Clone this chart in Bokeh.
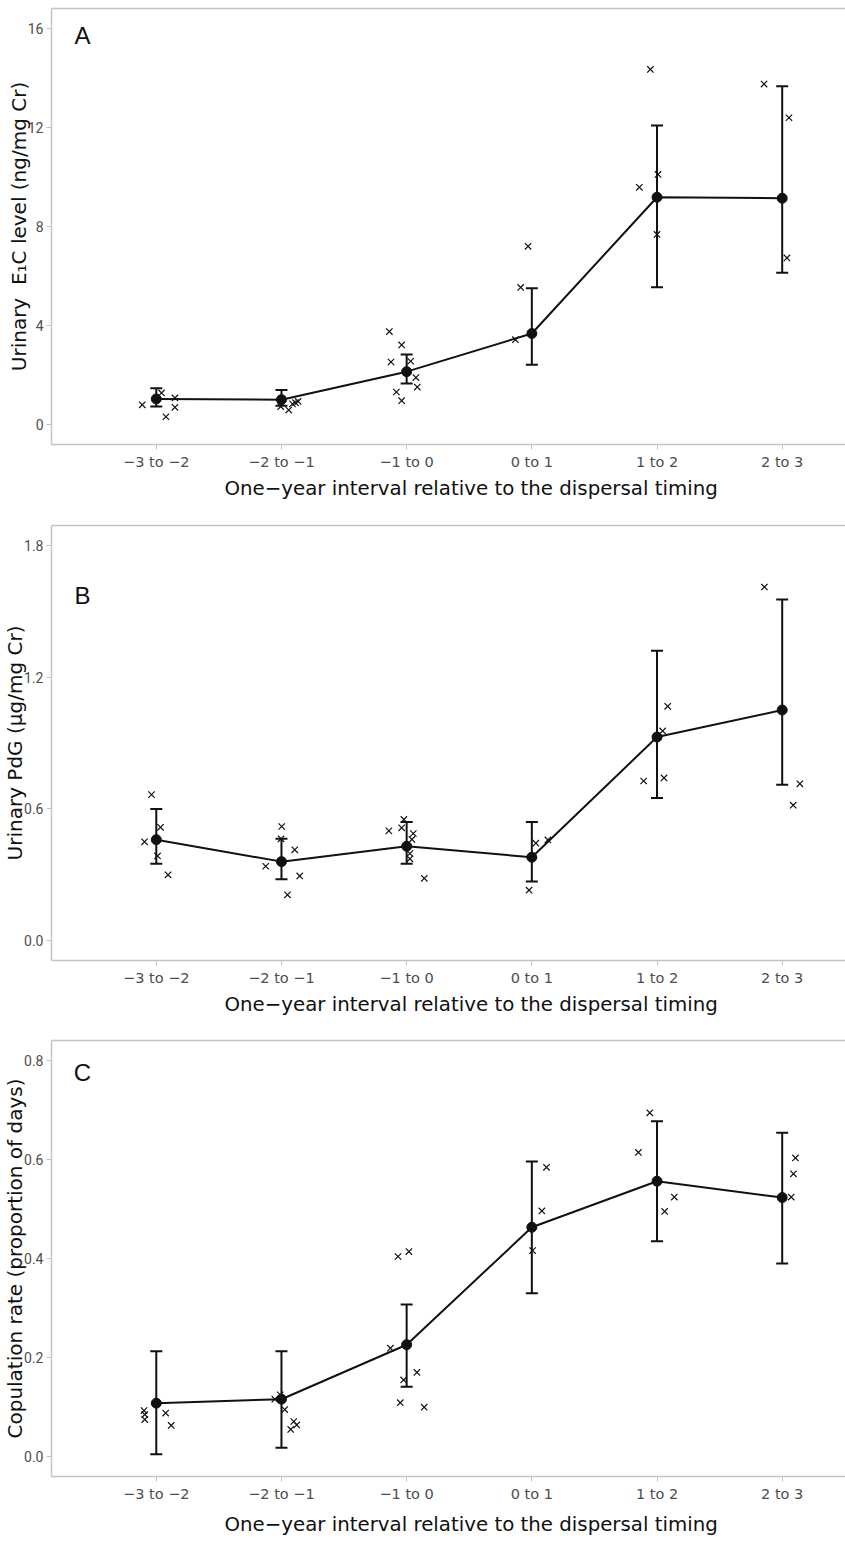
from bokeh.plotting import figure
from bokeh.layouts import column
from bokeh.models import (ColumnDataSource, Whisker, TeeHead, Label, FixedTicker,
                          NumeralTickFormatter, Range1d, Title, LinearAxis)
from bokeh.embed import file_html
from bokeh.resources import INLINE

# ---------------- data ----------------
categories = ["−3 to −2", "−2 to −1", "−1 to 0", "0 to 1", "1 to 2", "2 to 3"]

# Panel A: urinary E1C (ng/mg Cr)
a_mean = [1.04, 1.01, 2.14, 3.68, 9.18, 9.14]
a_lo = [0.73, 0.76, 1.66, 2.42, 5.55, 6.13]
a_hi = [1.47, 1.40, 2.83, 5.51, 12.08, 13.66]
a_grp = [1, 1, 1, 1, 1,
         2, 2, 2, 2, 2,
         3, 3, 3, 3, 3, 3, 3, 3,
         4, 4, 4,
         5, 5, 5, 5,
         6, 6, 6]
a_jit = [-0.112, 0.042, 0.149, 0.149, 0.077,
         -0.006, 0.058, 0.088, 0.112, 0.133,
         -0.138, -0.040, -0.125, 0.032, 0.074, 0.085, -0.082, -0.040,
         -0.030, -0.089, -0.131,
         -0.053, 0.008, -0.141, 0.000,
         -0.145, 0.054, 0.038]
a_val = [0.80, 1.28, 1.08, 0.70, 0.32,
         0.73, 0.59, 0.84, 0.89, 0.94,
         3.76, 3.22, 2.53, 2.56, 1.90, 1.52, 1.32, 0.97,
         7.20, 5.54, 3.43,
         14.34, 10.10, 9.58, 7.68,
         13.75, 12.39, 6.73]

# Panel B: urinary PdG (ug/mg Cr)
b_mean = [0.46, 0.36, 0.43, 0.38, 0.927, 1.05]
b_lo = [0.35, 0.28, 0.35, 0.27, 0.65, 0.71]
b_hi = [0.60, 0.464, 0.54, 0.54, 1.32, 1.553]
b_grp = [1, 1, 1, 1, 1,
         2, 2, 2, 2, 2, 2,
         3, 3, 3, 3, 3, 3, 3, 3,
         4, 4, 4,
         5, 5, 5, 5,
         6, 6, 6]
b_jit = [-0.038, 0.034, -0.094, 0.010, 0.094,
         0.002, -0.003, 0.106, -0.126, 0.146, 0.048,
         -0.022, -0.040, -0.142, 0.053, 0.042, 0.026, 0.026, 0.141,
         0.032, 0.128, -0.022,
         0.085, 0.045, -0.107, 0.056,
         -0.142, 0.141, 0.088]
b_val = [0.665, 0.516, 0.45, 0.386, 0.30,
         0.52, 0.464, 0.414, 0.339, 0.295, 0.209,
         0.552, 0.514, 0.50, 0.488, 0.461, 0.397, 0.373, 0.284,
         0.444, 0.459, 0.23,
         1.067, 0.955, 0.727, 0.741,
         1.61, 0.714, 0.617]

# Panel C: copulation rate
c_mean = [0.108, 0.116, 0.226, 0.463, 0.556, 0.523]
c_lo = [0.005, 0.018, 0.141, 0.33, 0.435, 0.39]
c_hi = [0.213, 0.213, 0.307, 0.596, 0.677, 0.654]
c_grp = [1, 1, 1, 1, 1,
         2, 2, 2, 2, 2, 2,
         3, 3, 3, 3, 3, 3, 3,
         4, 4, 4,
         5, 5, 5, 5,
         6, 6, 6]
c_jit = [-0.098, -0.092, -0.092, 0.075, 0.119,
         -0.053, -0.010, 0.026, 0.098, 0.122, 0.074,
         -0.130, 0.082, -0.024, -0.051, 0.140, -0.069, 0.018,
         0.117, 0.080, 0.006,
         -0.058, -0.149, 0.138, 0.061,
         0.106, 0.090, 0.072]
c_val = [0.093, 0.085, 0.075, 0.088, 0.063,
         0.116, 0.125, 0.095, 0.071, 0.064, 0.055,
         0.219, 0.170, 0.155, 0.109, 0.100, 0.404, 0.414,
         0.584, 0.496, 0.416,
         0.694, 0.614, 0.524, 0.495,
         0.603, 0.571, 0.524]

x_title = "One−year interval relative to the dispersal timing"

GRAY = "#c4c4c4"
TXT = "#4d4d4d"
INK = "#111111"
MAIN_FONT = "DejaVu Sans"
TICK_FONT = "Roboto"
WIDTH = 845
LEFT = 49
PX_PER_CAT = 125.5
X0 = 0.163


def panel(mean, lo, hi, grp, jit, val, yr, yticks, fmt, ytitle, letter, letter_y,
          height, top, bottom, title_standoff):
    x_end = X0 + (WIDTH - LEFT) / PX_PER_CAT
    p = figure(width=WIDTH, height=height, output_backend="svg", toolbar_location=None,
               x_range=Range1d(X0, x_end), y_range=Range1d(*yr),
               min_border_left=LEFT, min_border_right=0, min_border_top=top,
               min_border_bottom=bottom, background_fill_color="white",
               border_fill_color="white")
    p.grid.visible = False
    p.outline_line_color = None

    xs = list(range(1, len(categories) + 1))
    # individual points
    px = [g + j for g, j in zip(grp, jit)]
    p.scatter(px, val, marker="x", size=9, line_width=1.2, line_color=INK)
    # mean line
    p.line(xs, mean, line_width=2, line_color=INK)
    # error bars
    src = ColumnDataSource(dict(x=xs, lo=lo, hi=hi))
    w = Whisker(base="x", lower="lo", upper="hi", source=src, line_width=2,
                line_color=INK,
                upper_head=TeeHead(size=12, line_width=2, line_color=INK),
                lower_head=TeeHead(size=12, line_width=2, line_color=INK))
    p.add_layout(w)
    # means
    p.scatter(xs, mean, marker="circle", size=10, fill_color=INK, line_color=INK)

    # x axis
    xa = p.xaxis[0]
    xa.ticker = FixedTicker(ticks=xs)
    xa.major_label_overrides = {i + 1: c for i, c in enumerate(categories)}
    xa.axis_line_color = GRAY
    xa.axis_line_width = 1.5
    xa.major_tick_line_color = GRAY
    xa.major_tick_out = 5
    xa.major_tick_in = 0
    xa.minor_tick_line_color = None
    xa.major_label_text_font = MAIN_FONT
    xa.major_label_text_font_size = "14.5px"
    xa.major_label_text_color = TXT
    xa.major_label_standoff = 4

    # x title below the axis, placed as in the original (cropped) panel
    p.add_layout(Title(text=x_title, align="left", offset=173, standoff=title_standoff,
                       text_font=MAIN_FONT, text_font_size="19.8px",
                       text_font_style="normal", text_color=INK), "below")

    # top frame line (no right-hand border in the original)
    top_axis = LinearAxis(ticker=FixedTicker(ticks=[]), axis_line_color=GRAY,
                          axis_line_width=1.5, major_tick_line_color=None,
                          minor_tick_line_color=None, major_label_standoff=0,
                          major_label_text_font_size="0px")
    p.add_layout(top_axis, "above")

    # y axis
    ya = p.yaxis[0]
    ya.ticker = FixedTicker(ticks=yticks)
    ya.formatter = NumeralTickFormatter(format=fmt)
    ya.axis_line_color = GRAY
    ya.axis_line_width = 1.5
    ya.major_tick_line_color = GRAY
    ya.major_tick_out = 5
    ya.major_tick_in = 0
    ya.minor_tick_line_color = None
    ya.major_label_text_font = TICK_FONT
    ya.major_label_text_font_size = "14px"
    ya.major_label_text_color = TXT
    ya.major_label_standoff = 3
    ya.axis_label = ytitle
    ya.axis_label_text_font = MAIN_FONT
    ya.axis_label_text_font_size = "20px"
    ya.axis_label_text_font_style = "normal"
    ya.axis_label_text_color = INK
    ya.axis_label_standoff = -6

    p.add_layout(Label(x=0.41, y=letter_y, text=letter, text_font="Liberation Sans",
                       text_font_size="24px", text_align="center",
                       text_baseline="middle", text_color=INK))
    return p


pa = panel(a_mean, a_lo, a_hi, a_grp, a_jit, a_val, (-0.8, 16.8), [0, 4, 8, 12, 16], "0",
           "Urinary\u00a0\u00a0E₁C level (ng/mg Cr)", "A", 15.72, 505, 8, 61, 4)
pb = panel(b_mean, b_lo, b_hi, b_grp, b_jit, b_val, (-0.09, 1.89), [0.0, 0.6, 1.2, 1.8], "0.0",
           "Urinary PdG (μg/mg Cr)", "B", 1.573, 515, 20, 60, 4)
pc = panel(c_mean, c_lo, c_hi, c_grp, c_jit, c_val, (-0.04, 0.84), [0.0, 0.2, 0.4, 0.6, 0.8], "0.0",
           "Copulation rate (proportion of days)", "C", 0.776, 521, 20, 64, 12)

layout = column(pa, pb, pc, spacing=0)
open("out.html", "w").write(file_html(layout, INLINE))
